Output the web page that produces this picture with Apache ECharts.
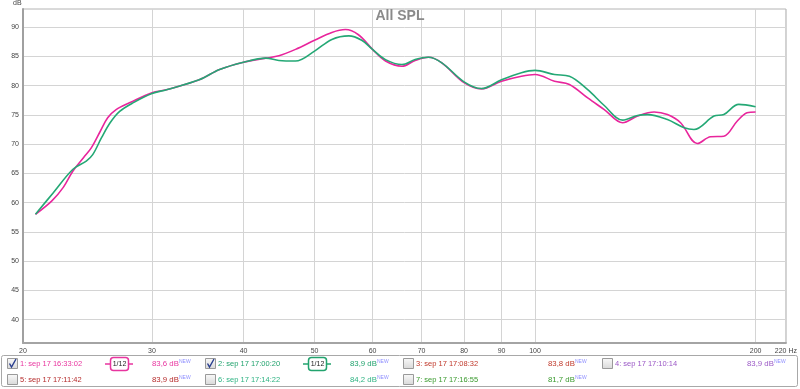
<!DOCTYPE html>
<html>
<head>
<meta charset="utf-8">
<script src="https://cdn.jsdelivr.net/npm/echarts@6/dist/echarts.min.js"></script>
<style>html,body{margin:0;padding:0;background:#fff}#c{width:800px;height:389px}</style>
</head>
<body>
<div id="c"></div>
<script>
// ---- data ----
const freq1 = [20.8,21.9,22.7,23.4,24.2,24.8,25.5,26.1,26.8,28.0,30,31.4,34.8,37.1,40,42.9,44.7,47.1,50,52.8,55.1,57.4,60,62.5,65.8,68.6,71.5,74.6,80,84.5,90,95.8,100,106.3,111.4,118,124.3,131.7,138,145.4,151.6,158,166.5,173.6,181,188.7,194.7,200];
const spl1  = [58.0,60.3,62.6,65.4,67.7,69.4,72.2,74.5,75.9,77.1,78.8,79.3,81.0,82.75,84.0,84.7,85.1,86.2,87.75,89.1,89.6,88.7,86.2,84.2,83.3,84.3,84.85,83.9,80.5,79.45,80.75,81.6,81.9,80.75,80.2,77.9,75.9,73.65,74.8,75.5,75.05,73.65,70.1,71.25,71.35,73.9,75.35,75.5];
const freq2 = [20.8,22.0,23.4,24.4,24.9,25.6,26.3,27.1,28.3,30,31.4,34.8,37.1,40,42.9,44.7,47.1,50,52.8,55.7,58.0,60,62.5,65.8,68.6,71.5,74.6,80,84.5,90,95.8,100,106.3,111.4,118,124.3,131.7,138,142.4,151.6,159.8,164.8,175.5,181,189.7,200];
const spl2  = [58.0,61.7,65.7,67.1,68.2,71.1,73.65,75.6,77.1,78.65,79.3,81.0,82.75,84.0,84.7,84.3,84.2,85.9,87.9,88.5,87.75,86.2,84.45,83.6,84.45,84.85,83.9,80.65,79.5,81.0,82.2,82.6,81.9,81.6,79.3,76.6,74.1,74.9,75.05,74.2,72.8,72.5,74.8,75.05,76.8,76.4];
const xTicksHz = [20,30,40,50,60,70,80,90,100,200,220];
const yTicks = [40,45,50,55,60,65,70,75,80,85,90];
const titleText = 'All SPL';
const legendNames = ['1: sep 17 16:33:02','2: sep 17 17:00:20','3: sep 17 17:08:32','4: sep 17 17:10:14','5: sep 17 17:11:42','6: sep 17 17:14:22','7: sep 17 17:16:55'];
const legendLevels = ['83,6 dB','83,9 dB','83,8 dB','83,9 dB','83,9 dB','84,2 dB','81,7 dB'];
const legendChecked = [true,true,false,false,false,false,false];
const legendColors = ['#e8359f','#22a36e','#c0392b','#9b59c6','#b52a2a','#2fb383','#3a9a2e'];

// ---- chart ----
const FONT = 'Liberation Sans, Arial, sans-serif';
const chart = echarts.init(document.getElementById('c'), null, {renderer:'canvas'});
const xLog = xTicksHz.map(v => Math.log10(v));

const graphics = [
  {type:'text', left:13, top:0, style:{text:'dB', fontSize:7, fill:'#444', fontFamily:FONT}},
  {type:'rect', shape:{x:1.5, y:355.5, width:796, height:31, r:2}, style:{fill:'#fff', stroke:'#a8a8a8', lineWidth:1}}
];
const colX = [7, 205, 403, 602];
const rowY = [364, 380];
legendNames.forEach((name, i) => {
  const row = i < 4 ? 0 : 1;
  const col = i < 4 ? i : i - 4;
  const x = colX[col], y = rowY[row];
  const c = legendColors[i];
  graphics.push({type:'rect', shape:{x:x+0.5, y:y-5.5, width:10, height:10}, style:{fill:{type:'linear',x:0,y:0,x2:0,y2:1,colorStops:[{offset:0,color:'#fafafa'},{offset:1,color:'#d8d8d8'}]}, stroke:'#9a9a9a', lineWidth:1}});
  if (legendChecked[i]) {
    graphics.push({type:'polyline', shape:{points:[[x+2.5,y-0.5],[x+4.5,y+3],[x+9,y-5]]}, style:{stroke:'#2a3f8f', lineWidth:1.4, fill:null}});
    graphics.push({type:'line', shape:{x1:x+98, y1:y, x2:x+126, y2:y}, style:{stroke:c, lineWidth:1.5}});
    graphics.push({type:'rect', shape:{x:x+103.5, y:y-6.5, width:18, height:13, r:3}, style:{fill:'#fff', stroke:c, lineWidth:1.5}});
    graphics.push({type:'text', x:x+112.5, y:y, style:{text:'1/12', fontSize:7, fill:'#222', align:'center', verticalAlign:'middle', fontFamily:FONT}});
  }
  graphics.push({type:'text', x:x+13, y:y, style:{text:name, fontSize:7.5, fill:c, verticalAlign:'middle', fontFamily:FONT}});
  graphics.push({type:'text', x:x+145, y:y, style:{text:legendLevels[i], fontSize:7.8, fill:c, verticalAlign:'middle', fontFamily:FONT}});
  graphics.push({type:'text', x:x+172, y:y-2, style:{text:'NEW', fontSize:5, fill:'#8f8fff', verticalAlign:'middle', fontFamily:FONT}});
});

chart.setOption({
  animation:false,
  backgroundColor:'#fff',
  title:{text:titleText, left:'center', top:9, padding:0, textStyle:{fontSize:14, fontWeight:'bold', color:'#8a8a8a', fontFamily:FONT}},
  grid:{left:23, right:11, top:9, bottom:46, show:true, borderColor:'#b4b4b4', borderWidth:1, backgroundColor:'#fff'},
  xAxis:{
    type:'value', min:Math.log10(20), max:Math.log10(220),
    axisLine:{show:true, onZero:false, lineStyle:{color:'#a4a4a4', width:2}},
    axisTick:{show:false, customValues:xLog},
    axisLabel:{customValues:xLog, fontSize:7, color:'#444', margin:5, fontFamily:FONT,
      formatter: v => { const f = Math.round(Math.pow(10, v)); return f === 220 ? '220 Hz' : String(f); }},
    splitLine:{show:true, lineStyle:{color:'#d4d4d4', width:1}}
  },
  yAxis:{
    type:'value', min:36, max:93.1,
    axisLine:{show:true, onZero:false, lineStyle:{color:'#a0a0a0', width:2}},
    axisTick:{show:false, customValues:yTicks},
    axisLabel:{customValues:yTicks, fontSize:7, color:'#444', margin:4, fontFamily:FONT},
    splitLine:{show:true, lineStyle:{color:'#d4d4d4', width:1}}
  },
  series:[
    {type:'line', data:freq1.map((f,i)=>[Math.log10(f), spl1[i]]), showSymbol:false, smooth:0.35, lineStyle:{color:'#e8259c', width:1.6}, itemStyle:{color:'#e8259c'}},
    {type:'line', data:freq2.map((f,i)=>[Math.log10(f), spl2[i]]), showSymbol:false, smooth:0.35, lineStyle:{color:'#24a875', width:1.6}, itemStyle:{color:'#24a875'}}
  ],
  graphic:graphics
});
</script>
</body>
</html>
